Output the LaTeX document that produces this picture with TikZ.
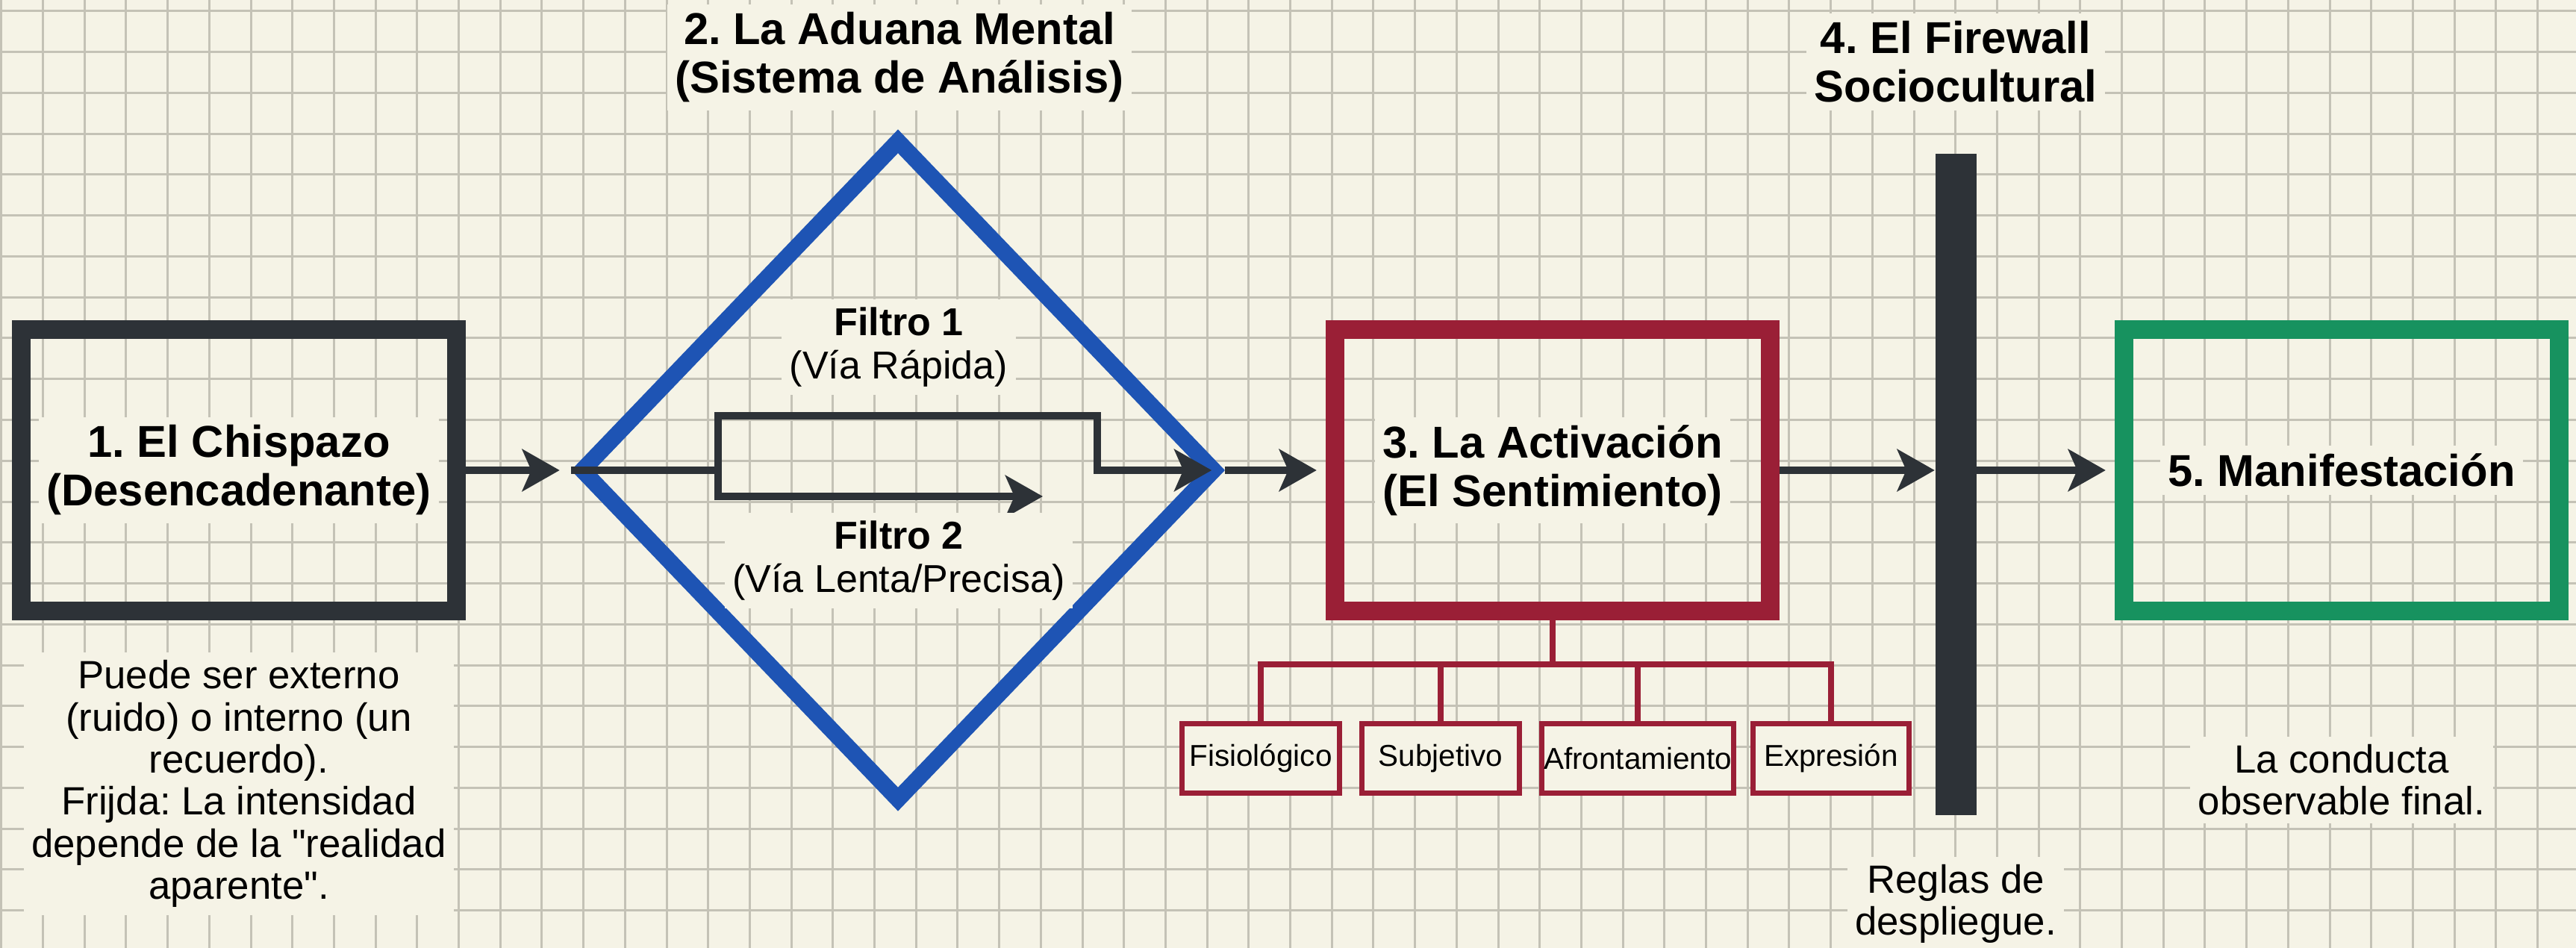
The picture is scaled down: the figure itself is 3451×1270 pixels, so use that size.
\documentclass[tikz,border=0pt]{standalone}
\usepackage{fontspec}
\setmainfont{Liberation Sans}
\usepackage{xcolor}
\usetikzlibrary{positioning,arrows.meta,calc,shapes.geometric}

\definecolor{paper}{HTML}{F5F3E6}
\definecolor{gridgray}{HTML}{C4C2B6}
\definecolor{ink}{HTML}{2D3237}
\definecolor{aduana}{HTML}{1E54B4}
\definecolor{activ}{HTML}{9A1F36}
\definecolor{manif}{HTML}{17925F}
\frenchspacing
\newcommand\straightquote{\XeTeXglyph\XeTeXcharglyph"22\relax}

\begin{document}
\begin{tikzpicture}[x=0.01cm, y=-0.01cm,
  every node/.style={font=\fontsize{15}{16}\selectfont, text=black},
  stage/.style={draw, line width=0.25cm, minimum width=5.83cm, minimum height=3.77cm, inner sep=0pt},
  heading/.style={font=\fontsize{17}{18.5}\selectfont\bfseries, align=center, fill=paper, inner sep=3pt},
  note/.style={align=center, fill=paper, inner sep=3pt},
  facet/.style={draw=activ, line width=0.07cm, fill=paper, minimum width=#1, minimum height=0.93cm,
                inner sep=0pt, font=\fontsize{11.5}{13}\selectfont},
  flow/.style={draw=ink, line width=0.1cm, line join=miter,
               -{Stealth[length=0.5cm, width=0.56cm, inset=0.12cm]}},
  branch/.style={draw=activ, line width=0.08cm},
  gridline/.style={gridgray, line width=0.03cm}]

  % squared paper
  \fill[paper] (0,0) rectangle (3451,1270);
  \useasboundingbox (0,0) rectangle (3451,1270);
  \foreach \k in {0,...,61} \draw[gridline] ({1.8+55.7*\k},0) -- ({1.8+55.7*\k},1270);
  \foreach \k in {0,...,22} \draw[gridline] (0,{15+54.75*\k}) -- (3451,{15+54.75*\k});

  % 1. trigger
  \node[stage, draw=ink, label={[heading]center:1. El Chispazo\\(Desencadenante)}] (trigger) at (320,630) {};
  \node[note] (triggernote) at (320,1050) {Puede ser externo\\(ruido) o interno (un\\recuerdo).\\Frijda: La intensidad\\depende de la \straightquote realidad\\aparente\straightquote.};

  % 2. mental customs
  \node[diamond, draw=aduana, line width=0.22cm, minimum width=8.54cm, minimum height=8.9cm, inner sep=0pt] (customs) at (1203,630) {};
  \node[heading] (customstitle) at (1205,77) {2. La Aduana Mental\\(Sistema de Análisis)};

  \coordinate (fork) at (962,630);
  \coordinate (fastup) at (962,557);
  \coordinate (fastdown) at (1470,557);
  \coordinate (slowend) at (1397,665);

  \draw[flow, shorten >=0.18cm] (customs.west) -- (fork) -- (fastup) -- (fastdown) -- (fastdown |- customs.east) -- (customs.east);
  \draw[flow] (fork) |- (slowend);

  \node[note, font=\fontsize{14.8}{16.5}\selectfont] (fastlab) at (1204,465) {\textbf{Filtro 1}\\(Vía Rápida)};
  \node[note, font=\fontsize{14.8}{16.5}\selectfont] (slowlab) at (1204,751) {\textbf{Filtro 2}\\(Vía Lenta/Precisa)};

  % 3. activation and its components
  \node[stage, draw=activ, label={[heading]center:3. La Activación\\(El Sentimiento)}] (activation) at (2080,630) {};

  \node[facet=2.11cm] (fisio)  at (1689,1016) {Fisiológico};
  \node[facet=2.10cm] (subj)   at (1930,1016) {Subjetivo};
  \node[facet=2.56cm] (afront) at (2194,1016) {Afrontamiento};
  \node[facet=2.08cm] (expr)   at (2453,1016) {Expresión};

  \coordinate (hub) at (2080,890);
  \draw[branch] (activation.south) -- (hub);
  \draw[branch] (fisio.north) |- (expr.north |- hub) -- (expr.north);
  \foreach \f in {subj,afront} \draw[branch] (\f.north) -- (\f.north |- hub);

  % 4. sociocultural firewall
  \node[fill=ink, minimum width=0.55cm, minimum height=8.86cm, inner sep=0pt] (firewall) at (2620,649) {};
  \node[heading] (firewalltitle) at (2620,83) {4. El Firewall\\Sociocultural};
  \node[note] (firewallnote) at (2620,1211) {Reglas de\\despliegue.};

  % 5. manifestation
  \node[stage, draw=manif, label={[heading]center:5. Manifestación}] (manifest) at (3137,630) {};
  \node[note] (manifestnote) at (3137,1045) {La conducta\\observable final.};

  % main flow
  \draw[flow, shorten >=0.15cm] (trigger.east) -- (customs.west);
  \draw[flow, shorten >=0.12cm] (customs.east) -- (activation.west);
  \draw[flow] (activation.east) -- (activation.east -| firewall.west);
  \draw[flow, shorten >=0.12cm] (firewall.east |- manifest.west) -- (manifest.west);
\end{tikzpicture}
\end{document}
